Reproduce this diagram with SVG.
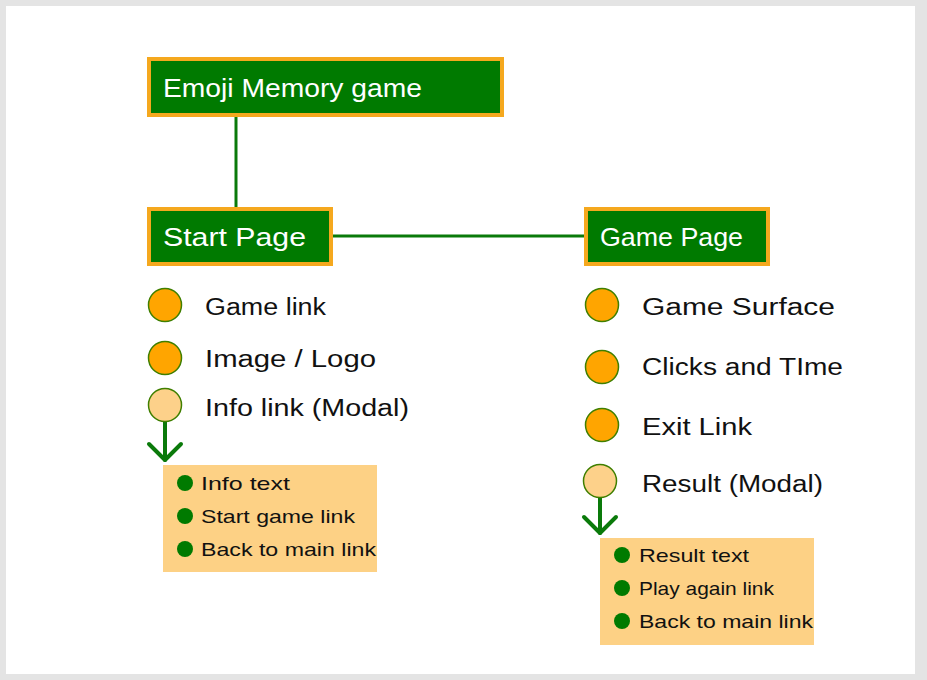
<svg xmlns="http://www.w3.org/2000/svg" width="927" height="680" viewBox="0 0 927 680">
  <style>
    .box { fill: #007a00; stroke: #f5a81e; stroke-width: 4; }
    .title { font-family: "Liberation Sans", Arial, sans-serif; font-size: 25px; fill: #ffffff; }
    .item { font-family: "Liberation Sans", Arial, sans-serif; font-size: 23px; fill: #111111; }
    .sub { font-family: "Liberation Sans", Arial, sans-serif; font-size: 19px; fill: #111111; }
    .dot { fill: #ffa500; stroke: #3f7f00; stroke-width: 1.5; }
    .dot-light { fill: #fdd18a; stroke: #3f7f00; stroke-width: 1.5; }
    .modal { fill: #fdd185; }
    .bullet { fill: #007a00; }
    .link { stroke: #0a7a0a; stroke-width: 3; fill: none; }
    .drop { stroke: #0a7a0a; stroke-width: 4; fill: none; stroke-linecap: round; stroke-linejoin: round; }
  </style>

  <!-- frame -->
  <rect x="0" y="0" width="927" height="680" fill="#e4e4e4"/>
  <rect x="6" y="6" width="909" height="668" fill="#ffffff"/>

  <!-- connectors -->
  <g id="connectors">
    <line class="link" x1="236" y1="117" x2="236" y2="208"/>
    <line class="link" x1="333" y1="236" x2="585" y2="236"/>
    <line class="drop" x1="165" y1="422" x2="165" y2="460"/>
    <polyline class="drop" points="149,444 165,460 181,444"/>
    <line class="drop" x1="600" y1="498" x2="600" y2="533"/>
    <polyline class="drop" points="584,517 600,533 616,517"/>
  </g>

  <!-- top -->
  <g id="emoji-memory-game">
    <rect class="box" x="149" y="59" width="353" height="56"/>
    <text class="title" x="163" y="97" textLength="259" lengthAdjust="spacingAndGlyphs">Emoji Memory game</text>
  </g>

  <!-- start page -->
  <g id="start-page">
    <rect class="box" x="149" y="209" width="182" height="55"/>
    <text class="title" x="163" y="246" textLength="143" lengthAdjust="spacingAndGlyphs">Start Page</text>
  </g>

  <g id="game-link">
    <circle class="dot" cx="165" cy="305" r="16.5"/>
    <text class="item" x="205" y="315" textLength="121" lengthAdjust="spacingAndGlyphs">Game link</text>
  </g>
  <g id="image-logo">
    <circle class="dot" cx="165" cy="358" r="16.5"/>
    <text class="item" x="205" y="367" textLength="171" lengthAdjust="spacingAndGlyphs">Image / Logo</text>
  </g>
  <g id="info-link">
    <circle class="dot-light" cx="165" cy="405" r="16.5"/>
    <text class="item" x="205" y="416" textLength="204" lengthAdjust="spacingAndGlyphs">Info link (Modal)</text>
  </g>

  <g id="info-modal">
    <rect class="modal" x="163" y="465" width="214" height="107"/>
    <circle class="bullet" cx="185" cy="483" r="8"/>
    <text class="sub" x="201" y="490" textLength="89" lengthAdjust="spacingAndGlyphs">Info text</text>
    <circle class="bullet" cx="185" cy="516" r="8"/>
    <text class="sub" x="201" y="523" textLength="154" lengthAdjust="spacingAndGlyphs">Start game link</text>
    <circle class="bullet" cx="185" cy="549" r="8"/>
    <text class="sub" x="201" y="556" textLength="175" lengthAdjust="spacingAndGlyphs">Back to main link</text>
  </g>

  <!-- game page -->
  <g id="game-page">
    <rect class="box" x="586" y="209" width="182" height="55"/>
    <text class="title" x="600" y="246" textLength="143" lengthAdjust="spacingAndGlyphs">Game Page</text>
  </g>

  <g id="game-surface">
    <circle class="dot" cx="602" cy="305" r="16.5"/>
    <text class="item" x="642" y="315" textLength="193" lengthAdjust="spacingAndGlyphs">Game Surface</text>
  </g>
  <g id="clicks-time">
    <circle class="dot" cx="602" cy="367" r="16.5"/>
    <text class="item" x="642" y="375" textLength="201" lengthAdjust="spacingAndGlyphs">Clicks and TIme</text>
  </g>
  <g id="exit-link">
    <circle class="dot" cx="602" cy="425" r="16.5"/>
    <text class="item" x="642" y="435" textLength="110" lengthAdjust="spacingAndGlyphs">Exit Link</text>
  </g>
  <g id="result">
    <circle class="dot-light" cx="600" cy="481" r="16.5"/>
    <text class="item" x="642" y="492" textLength="181" lengthAdjust="spacingAndGlyphs">Result (Modal)</text>
  </g>

  <g id="result-modal">
    <rect class="modal" x="600" y="538" width="214" height="107"/>
    <circle class="bullet" cx="622" cy="555" r="8"/>
    <text class="sub" x="639" y="562" textLength="110" lengthAdjust="spacingAndGlyphs">Result text</text>
    <circle class="bullet" cx="622" cy="588" r="8"/>
    <text class="sub" x="639" y="595" textLength="135" lengthAdjust="spacingAndGlyphs">Play again link</text>
    <circle class="bullet" cx="622" cy="621" r="8"/>
    <text class="sub" x="639" y="628" textLength="174" lengthAdjust="spacingAndGlyphs">Back to main link</text>
  </g>
</svg>
